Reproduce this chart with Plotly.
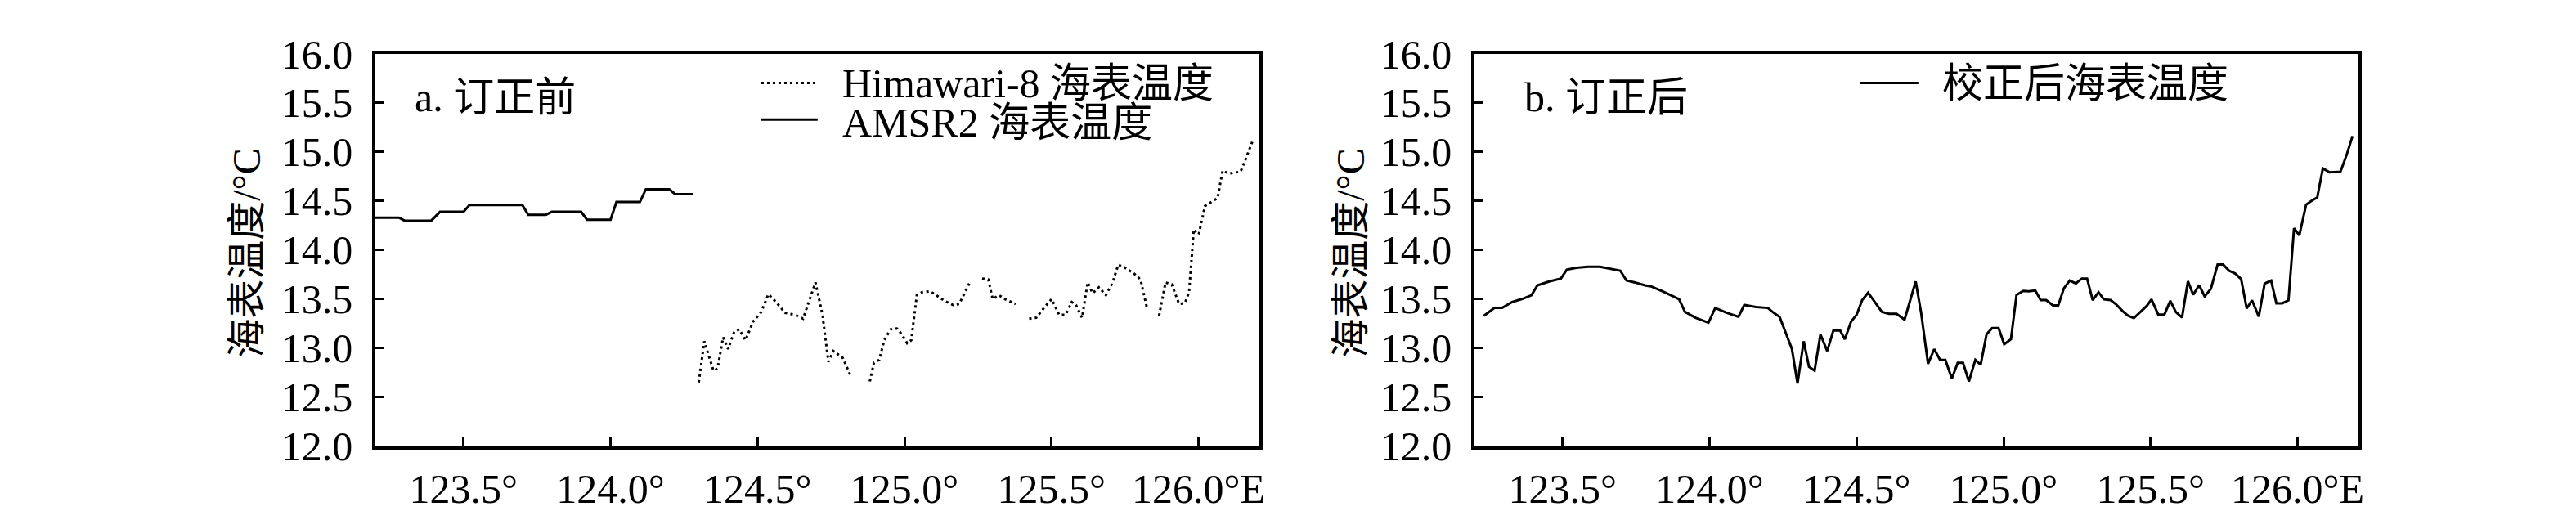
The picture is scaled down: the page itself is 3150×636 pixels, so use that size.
import plotly.graph_objects as go

# ---------------- data ----------------
amsr2_lon = [123.20, 123.28, 123.30, 123.39, 123.42, 123.50, 123.52, 123.70, 123.72, 123.78,
             123.80, 123.90, 123.92, 124.00, 124.02, 124.10, 124.12, 124.20, 124.22, 124.28]
amsr2_sst = [14.33, 14.33, 14.30, 14.30, 14.39, 14.39, 14.46, 14.46, 14.36, 14.36,
             14.39, 14.39, 14.31, 14.31, 14.49, 14.49, 14.62, 14.62, 14.57, 14.57]

hima_lon = [124.300, 124.319, 124.350, 124.364, 124.383, 124.400, 124.421, 124.438, 124.459, 124.485,
            124.513, 124.537, 124.563, 124.594, 124.626, 124.655, 124.697, 124.721, 124.741, 124.758,
            124.790, 124.818, 124.850, 124.882, 124.896, 124.914, 124.931, 124.952, 124.974, 124.991,
            125.009, 125.023, 125.042, 125.059, 125.087, 125.108, 125.137, 125.165, 125.186, 125.222,
            125.243, 125.264, 125.285, 125.300, 125.321, 125.342, 125.378, 125.400, 125.424, 125.448,
            125.477, 125.501, 125.526, 125.548, 125.569, 125.583, 125.604, 125.623, 125.640, 125.661,
            125.685, 125.708, 125.727, 125.750, 125.781, 125.803, 125.824, 125.845, 125.866, 125.888,
            125.909, 125.934, 125.954, 125.968, 125.984, 126.001, 126.022, 126.043, 126.065, 126.082,
            126.104, 126.143, 126.157, 126.185]
hima_sst = [12.65, 13.07, 12.77, 12.79, 13.11, 12.99, 13.17, 13.19, 13.08, 13.27,
            13.37, 13.55, 13.47, 13.36, 13.34, 13.30, 13.67, 13.34, 12.86, 12.97,
            12.90, 12.71, None, 12.66, 12.85, 12.88, 13.08, 13.19, 13.20, 13.14,
            13.05, 13.08, 13.54, 13.57, 13.58, 13.54, 13.48, 13.44, 13.45, 13.67,
            None, 13.71, 13.70, 13.50, 13.54, 13.50, 13.45, None, 13.30, 13.31,
            13.42, 13.50, 13.34, 13.34, 13.47, 13.44, 13.31, 13.67, 13.56, 13.62,
            13.54, 13.67, 13.85, 13.82, 13.76, 13.70, 13.42, None, 13.33, 13.67,
            13.65, 13.45, 13.46, 13.57, 14.21, 14.16, 14.45, 14.49, 14.53, 14.81,
            14.78, 14.80, 14.90, 15.12]

corr_lon = [123.232, 123.268, 123.294, 123.328, 123.361, 123.394, 123.414, 123.454, 123.494, 123.514,
            123.547, 123.587, 123.627, 123.660, 123.696, 123.717, 123.746, 123.780, 123.800, 123.839,
            123.872, 123.896, 123.916, 123.952, 123.996, 124.019, 124.059, 124.098, 124.118, 124.158,
            124.198, 124.218, 124.238, 124.280, 124.299, 124.320, 124.338, 124.357, 124.377, 124.400,
            124.421, 124.444, 124.460, 124.481, 124.500, 124.519, 124.539, 124.563, 124.586, 124.610,
            124.636, 124.663, 124.701, 124.719, 124.743, 124.764, 124.784, 124.802, 124.824, 124.844,
            124.862, 124.882, 124.904, 124.922, 124.942, 124.961, 124.983, 125.002, 125.025, 125.044,
            125.067, 125.085, 125.108, 125.126, 125.145, 125.168, 125.186, 125.205, 125.225, 125.246,
            125.266, 125.284, 125.303, 125.323, 125.341, 125.364, 125.383, 125.406, 125.424, 125.443,
            125.466, 125.487, 125.503, 125.526, 125.547, 125.567, 125.586, 125.607, 125.627, 125.645,
            125.665, 125.684, 125.705, 125.728, 125.747, 125.767, 125.788, 125.808, 125.827, 125.845,
            125.868, 125.888, 125.910, 125.928, 125.948, 125.969, 125.988, 126.006, 126.029, 126.049,
            126.067, 126.086, 126.109, 126.146, 126.166, 126.187]
corr_sst = [13.33, 13.41, 13.41, 13.47, 13.50, 13.54, 13.64, 13.68, 13.71, 13.80,
            13.82, 13.83, 13.83, 13.81, 13.79, 13.69, 13.67, 13.64, 13.63, 13.58,
            13.53, 13.50, 13.37, 13.31, 13.26, 13.41, 13.36, 13.32, 13.44, 13.42,
            13.41, 13.36, 13.32, 12.99, 12.64, 13.07, 12.81, 12.77, 13.14, 12.97,
            13.18, 13.18, 13.09, 13.27, 13.34, 13.49, 13.565, 13.47, 13.37, 13.35,
            13.35, 13.29, 13.68, 13.37, 12.84, 12.99, 12.88, 12.88, 12.69, 12.85,
            12.85, 12.66, 12.88, 12.83, 13.14, 13.205, 13.205, 13.04, 13.09, 13.543,
            13.584, 13.58, 13.587, 13.49, 13.49, 13.436, 13.436, 13.61, 13.69, 13.66,
            13.71, 13.71, 13.49, 13.57, 13.497, 13.49, 13.445, 13.374, 13.33, 13.306,
            13.368, 13.43, 13.497, 13.343, 13.343, 13.482, 13.368, 13.312, 13.683, 13.544,
            13.642, 13.528, 13.605, 13.852, 13.852, 13.79, 13.76, 13.704, 13.405, 13.488,
            13.322, 13.658, 13.689, 13.457, 13.457, 13.488, 14.222, 14.151, 14.463, 14.506,
            14.537, 14.833, 14.793, 14.80, 14.963, 15.163]

x_tickvals = [123.5, 124.0, 124.5, 125.0, 125.5, 126.0]
x_ticktext = ["123.5°", "124.0°", "124.5°", "125.0°", "125.5°", "126.0°E"]
y_tickvals = [12.0, 12.5, 13.0, 13.5, 14.0, 14.5, 15.0, 15.5, 16.0]
y_ticktext = ["12.0", "12.5", "13.0", "13.5", "14.0", "14.5", "15.0", "15.5", "16.0"]

ytitle = "海表温度/°C"
panel_titles = ["a. 订正前", "b. 订正后"]
legend_a = ["Himawari-8 海表温度", "AMSR2 海表温度"]
legend_b = ["校正后海表温度"]

# ---------------- figure ----------------
W, H = 3150, 636
FONT = "Liberation Serif, Times New Roman, Noto Sans CJK SC, serif"


def px(xp):
    return xp / W


def py(yp):
    return (H - yp) / H


fig = go.Figure()
fig.add_trace(go.Scatter(x=hima_lon, y=hima_sst, mode="lines", connectgaps=False,
                         line=dict(color="black", width=3, dash="3px,4px"),
                         xaxis="x", yaxis="y", name=legend_a[0]))
fig.add_trace(go.Scatter(x=amsr2_lon, y=amsr2_sst, mode="lines",
                         line=dict(color="black", width=3),
                         xaxis="x", yaxis="y", name=legend_a[1]))
fig.add_trace(go.Scatter(x=corr_lon, y=corr_sst, mode="lines",
                         line=dict(color="black", width=3),
                         xaxis="x2", yaxis="y2", name=legend_b[0]))

common = dict(showline=True, linecolor="black", linewidth=3.5, mirror=True,
              ticks="inside", tickwidth=3, tickcolor="black", showgrid=False,
              zeroline=False, tickfont=dict(family=FONT, size=50, color="black"))
xcommon = dict(common, range=[123.2, 126.206], tickvals=x_tickvals, ticktext=x_ticktext,
               ticklen=12, ticklabelstandoff=6)
ycommon = dict(common, range=[12, 16], tickvals=y_tickvals, ticktext=y_ticktext,
               ticklen=10, ticklabelstandoff=14)

ydom = [py(560), py(34)]
fig.update_layout(
    width=W, height=H, margin=dict(l=0, r=0, t=0, b=0),
    paper_bgcolor="white", plot_bgcolor="white", showlegend=False,
    xaxis=dict(xcommon, domain=[px(452), px(1535)], anchor="y"),
    yaxis=dict(ycommon, domain=ydom, anchor="x"),
    xaxis2=dict(xcommon, domain=[px(1799), px(2882)], anchor="y2"),
    yaxis2=dict(ycommon, domain=ydom, anchor="x2"),
)

anns = []
for xc in (294, 1647):
    anns.append(dict(text=ytitle, x=px(xc), y=py(301), xref="paper", yref="paper",
                     xanchor="center", yanchor="middle", textangle=-90, showarrow=False,
                     font=dict(family=FONT, size=48, color="black")))
for t, xl in zip(panel_titles, (498, 1858)):
    anns.append(dict(text=t, x=px(xl), y=py(92), xref="paper", yref="paper",
                     xanchor="left", yanchor="middle", showarrow=False,
                     font=dict(family=FONT, size=50, color="black")))
for t, xl, yc in ((legend_a[0], 1022, 74), (legend_a[1], 1022, 126), (legend_b[0], 2370, 74)):
    anns.append(dict(text=t, x=px(xl), y=py(yc), xref="paper", yref="paper",
                     xanchor="left", yanchor="middle", showarrow=False,
                     font=dict(family=FONT, size=50, color="black")))
fig.update_layout(annotations=anns)

shapes = [
    dict(type="line", xref="paper", yref="paper", x0=px(925), x1=px(994), y0=py(73), y1=py(73),
         line=dict(color="black", width=3, dash="3px,4px")),
    dict(type="line", xref="paper", yref="paper", x0=px(925), x1=px(994), y0=py(122), y1=py(122),
         line=dict(color="black", width=3)),
    dict(type="line", xref="paper", yref="paper", x0=px(2272), x1=px(2343), y0=py(73), y1=py(73),
         line=dict(color="black", width=3)),
]
fig.update_layout(shapes=shapes)

fig.write_html("out.html")
